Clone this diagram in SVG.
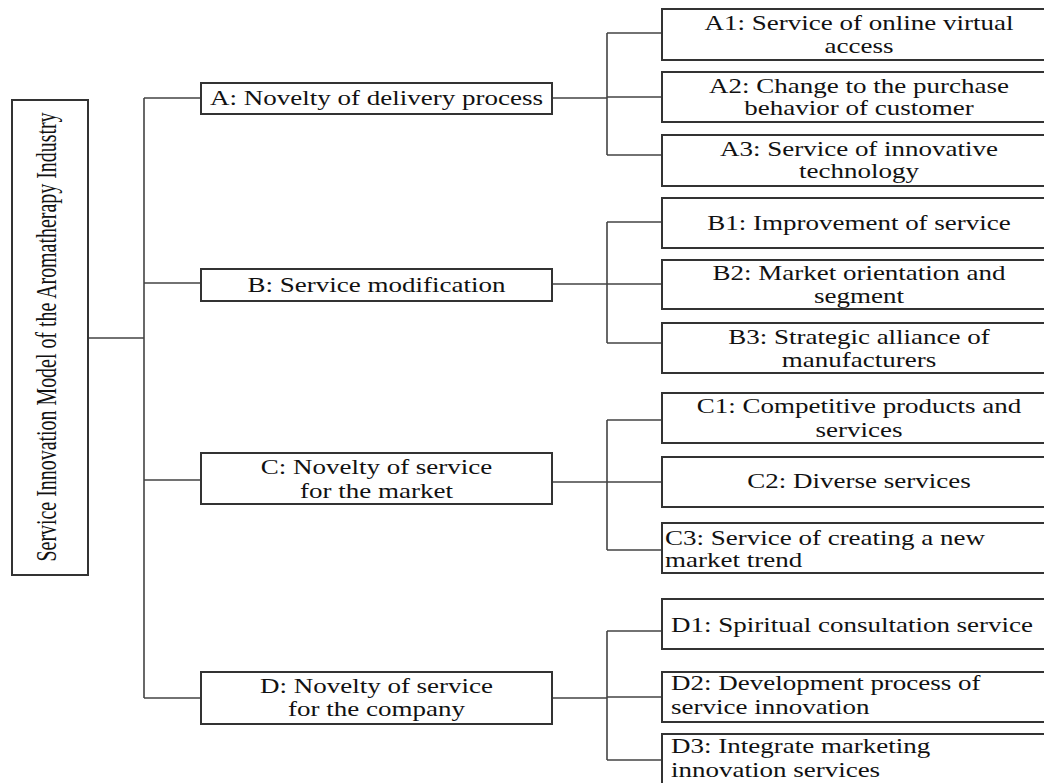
<svg xmlns="http://www.w3.org/2000/svg" width="1044" height="783" viewBox="0 0 1044 783">
<style>
.box{fill:#fff;stroke:#333;stroke-width:2}
.ln{fill:none;stroke:#444;stroke-width:1.6}
text{font-family:"Liberation Serif","Times New Roman",serif;font-size:20px;fill:#111}
.m{text-anchor:middle}
.root{font-size:30px;text-anchor:middle}
</style>
<rect width="1044" height="783" fill="#fff"/>
<g id="connectors">
<path class="ln" d="M88,338H144M144,98V698M144,98H201M144,283H201M144,480H201M144,698H201"/>
<path class="ln" d="M552,98H607M607,33V155M607,33H662M607,97H662M607,155H662"/>
<path class="ln" d="M552,284H607M607,222V343M607,222H662M607,284H662M607,343H662"/>
<path class="ln" d="M552,482H607M607,420V550M607,420H662M607,482H662M607,550H662"/>
<path class="ln" d="M552,698H607M607,631V760M607,631H662M607,697H662M607,760H662"/>
</g>
<g id="root">
<rect class="box" x="12" y="100" width="76" height="475"/>
<text class="root" transform="translate(56,337) rotate(-90) scale(0.664,1)">Service Innovation Model of the Aromatherapy Industry</text>
</g>
<g id="A">
<rect class="box" x="201" y="83" width="351" height="31"/>
<text class="m" transform="translate(376.5,105) scale(1.35,1)">A: Novelty of delivery process</text>
</g>
<g id="B">
<rect class="box" x="201" y="269" width="351" height="32"/>
<text class="m" transform="translate(376.5,292) scale(1.35,1)">B: Service modification</text>
</g>
<g id="C">
<rect class="box" x="201" y="453" width="351" height="51"/>
<text class="m" transform="translate(376.5,474) scale(1.35,1)">C: Novelty of service</text>
<text class="m" transform="translate(376.5,498) scale(1.35,1)">for the market</text>
</g>
<g id="D">
<rect class="box" x="201" y="672" width="351" height="52"/>
<text class="m" transform="translate(376.5,693) scale(1.35,1)">D: Novelty of service</text>
<text class="m" transform="translate(376.5,716) scale(1.35,1)">for the company</text>
</g>
<g id="A1">
<rect class="box" x="662" y="9" width="400" height="51"/>
<text class="m" transform="translate(859,30) scale(1.35,1)">A1: Service of online virtual</text>
<text class="m" transform="translate(859,53) scale(1.35,1)">access</text>
</g>
<g id="A2">
<rect class="box" x="662" y="72" width="400" height="50"/>
<text class="m" transform="translate(859,93) scale(1.35,1)">A2: Change to the purchase</text>
<text class="m" transform="translate(859,115) scale(1.35,1)">behavior of customer</text>
</g>
<g id="A3">
<rect class="box" x="662" y="135" width="400" height="51"/>
<text class="m" transform="translate(859,156) scale(1.35,1)">A3: Service of innovative</text>
<text class="m" transform="translate(859,178) scale(1.35,1)">technology</text>
</g>
<g id="B1">
<rect class="box" x="662" y="198" width="400" height="50"/>
<text class="m" transform="translate(859,230) scale(1.35,1)">B1: Improvement of service</text>
</g>
<g id="B2">
<rect class="box" x="662" y="260" width="400" height="49"/>
<text class="m" transform="translate(859,280) scale(1.35,1)">B2: Market orientation and</text>
<text class="m" transform="translate(859,303) scale(1.35,1)">segment</text>
</g>
<g id="B3">
<rect class="box" x="662" y="323" width="400" height="50"/>
<text class="m" transform="translate(859,344) scale(1.35,1)">B3: Strategic alliance of</text>
<text class="m" transform="translate(859,367) scale(1.35,1)">manufacturers</text>
</g>
<g id="C1">
<rect class="box" x="662" y="393" width="400" height="50"/>
<text class="m" transform="translate(859,413) scale(1.35,1)">C1: Competitive products and</text>
<text class="m" transform="translate(859,437) scale(1.35,1)">services</text>
</g>
<g id="C2">
<rect class="box" x="662" y="457" width="400" height="50"/>
<text class="m" transform="translate(859,488) scale(1.35,1)">C2: Diverse services</text>
</g>
<g id="C3">
<rect class="box" x="662" y="523" width="400" height="50"/>
<text transform="translate(665,545) scale(1.35,1)">C3: Service of creating a new</text>
<text transform="translate(665,567) scale(1.35,1)">market trend</text>
</g>
<g id="D1">
<rect class="box" x="662" y="599" width="400" height="50"/>
<text transform="translate(671,632) scale(1.35,1)">D1: Spiritual consultation service</text>
</g>
<g id="D2">
<rect class="box" x="662" y="672" width="400" height="50"/>
<text transform="translate(671,690) scale(1.35,1)">D2: Development process of</text>
<text transform="translate(671,714) scale(1.35,1)">service innovation</text>
</g>
<g id="D3">
<rect class="box" x="662" y="734" width="400" height="60"/>
<text transform="translate(671,753) scale(1.35,1)">D3: Integrate marketing</text>
<text transform="translate(671,777) scale(1.35,1)">innovation services</text>
</g>
</svg>
